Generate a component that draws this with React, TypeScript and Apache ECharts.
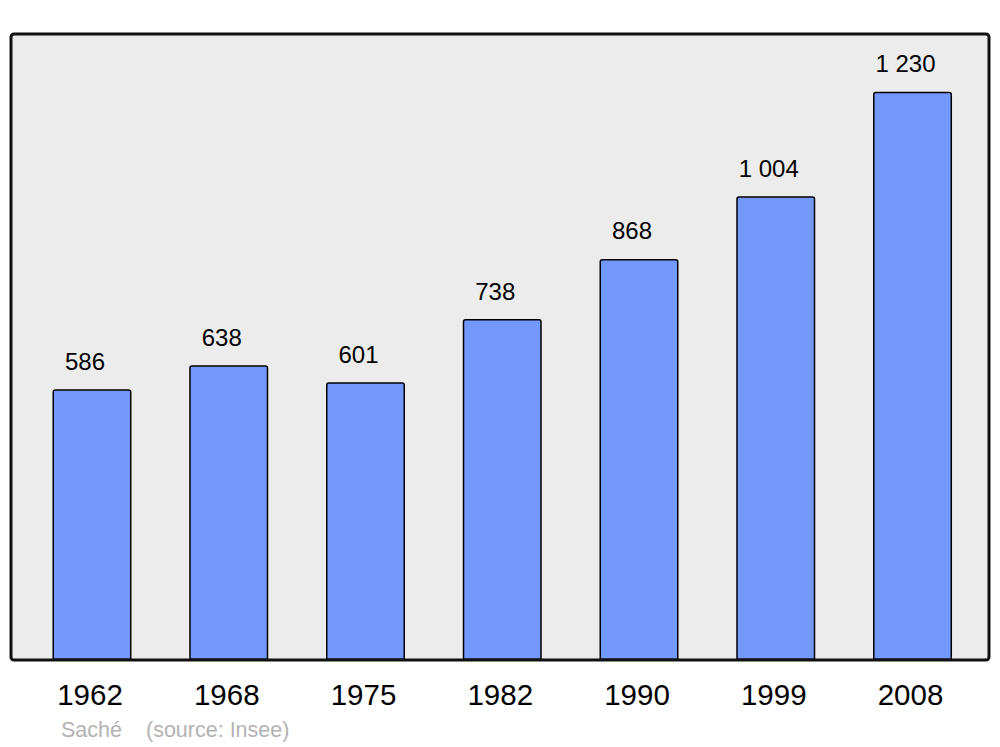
import React, { useEffect, useRef } from "react";
import * as echarts from "echarts";

const years = ["1962", "1968", "1975", "1982", "1990", "1999", "2008"];
const population = [586, 638, 601, 738, 868, 1004, 1230];
const valueLabels = ["586", "638", "601", "738", "868", "1 004", "1 230"];
const footerName = "Saché";
const footerSource = "(source: Insee)";

const FONT = '"Liberation Sans", Arial, sans-serif';

export default function App() {
  const ref = useRef<HTMLDivElement>(null);
  useEffect(() => {
    if (!ref.current) return;
    const chart = echarts.init(ref.current, null, { renderer: "svg" });
    chart.setOption({
      animation: false,
      backgroundColor: "#ffffff",
      grid: { left: 23.6, top: 34, width: 957.3, height: 626 },
      xAxis: {
        type: "category",
        data: years,
        axisLine: { show: false },
        axisTick: { show: false },
        axisLabel: {
          color: "#000",
          fontSize: 29.5,
          fontFamily: FONT,
          margin: 19,
          padding: [0, 4, 0, 0],
        },
      },
      yAxis: {
        type: "value",
        min: 0,
        max: 1355,
        show: false,
        splitLine: { show: false },
      },
      graphic: [
        {
          type: "rect",
          z: -10,
          shape: { x: 11, y: 34, width: 978, height: 626, r: 3 },
          style: { fill: "#ececec", stroke: "none" },
        },
        {
          type: "rect",
          z: 100,
          silent: true,
          shape: { x: 11, y: 34, width: 978, height: 626, r: 3 },
          style: { fill: "none", stroke: "#111111", lineWidth: 3 },
        },
        {
          type: "text",
          x: 61,
          y: 730,
          style: {
            text: footerName,
            fill: "#b3b3b3",
            font: `21.5px ${FONT}`,
            verticalAlign: "middle",
          },
        },
        {
          type: "text",
          x: 146,
          y: 730,
          style: {
            text: footerSource,
            fill: "#b3b3b3",
            font: `21.5px ${FONT}`,
            verticalAlign: "middle",
          },
        },
      ],
      series: [
        {
          type: "bar",
          data: population,
          barWidth: 79,
          itemStyle: {
            color: "#7399ff",
            borderColor: "#000000",
            borderWidth: 1.5,
            borderRadius: [2, 2, 0, 0],
          },
          label: {
            show: true,
            position: "top",
            distance: 16,
            offset: [-7, 0],
            color: "#000",
            fontSize: 24,
            fontFamily: FONT,
            formatter: (p: any) => valueLabels[p.dataIndex],
          },
        },
      ],
    });
    return () => chart.dispose();
  }, []);
  return <div ref={ref} style={{ width: 1000, height: 747, position: "absolute", left: 0, top: 0 }} />;
}
